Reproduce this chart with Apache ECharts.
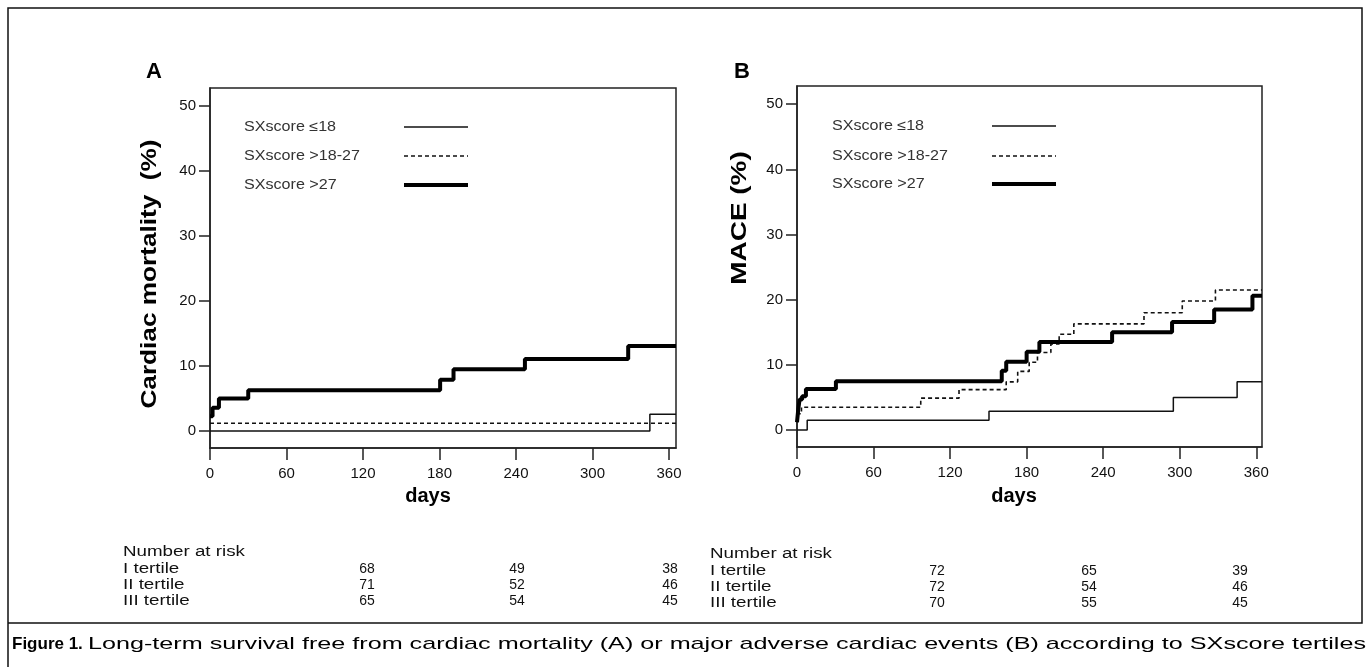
<!DOCTYPE html>
<html>
<head>
<meta charset="utf-8">
<script src="https://cdn.jsdelivr.net/npm/echarts@6/dist/echarts.min.js"></script>
<style>
html,body{margin:0;padding:0;background:#fff;}
#c{width:1370px;height:667px;}
</style>
</head>
<body>
<div id="c"></div>
<script>
// ---------- DATA ----------
const seriesNames = ['SXscore \u226418', 'SXscore >18-27', 'SXscore >27'];
const xTicks = [0, 60, 120, 180, 240, 300, 360];
const yTicks = [0, 10, 20, 30, 40, 50];

// Panel A: cardiac mortality (%)
const aLowDays  = [0, 345, 365.5];
const aLowVals  = [0, 2.6, 2.6];
const aMidDays  = [0, 365.5];
const aMidVals  = [1.2, 1.2];
const aHighDays = [0, 2, 7, 30, 180.5, 191, 247, 328, 365.5];
const aHighVals = [2.3, 3.6, 5.0, 6.3, 7.9, 9.5, 11.1, 13.1, 13.1];

// Panel B: MACE (%)
const bLowDays  = [0, 8, 150.5, 295, 345, 364.5];
const bLowVals  = [0, 1.5, 2.9, 5.0, 7.4, 7.4];
const bMidDays  = [0, 1, 3.5, 97, 127, 164, 173, 182, 188.5, 199, 205.5, 217, 272, 302, 328, 364.5];
const bMidVals  = [1.2, 2.5, 3.5, 4.9, 6.2, 7.4, 9.0, 10.4, 11.9, 13.2, 14.7, 16.3, 18.0, 19.8, 21.5, 21.5];
const bHighDays = [0, 1, 2, 4, 7, 30.5, 160.5, 164, 180, 190, 247, 294, 327, 357, 364.5];
const bHighVals = [1.2, 3.2, 4.7, 5.2, 6.3, 7.5, 9.1, 10.5, 12.0, 13.5, 15.0, 16.6, 18.5, 20.6, 20.6];

// Number at risk tables
const riskTitle = 'Number at risk';
const riskRows = ['I tertile', 'II tertile', 'III tertile'];
const riskA = [[68, 49, 38], [71, 52, 46], [65, 54, 45]];
const riskB = [[72, 65, 39], [72, 54, 46], [70, 55, 45]];

const captionBold = 'Figure 1.';
const captionText = 'Long-term survival free from cardiac mortality (A) or major adverse cardiac events (B) according to SXscore tertiles';

// ---------- CHART ----------
function zip(d, v) { return d.map((x, i) => [x, v[i]]); }

const chart = echarts.init(document.getElementById('c'), null, {renderer: 'canvas'});
const FONT = '"Liberation Sans", Arial, sans-serif';

const lineStyles = [
  {width: 1.5, color: '#111', type: 'solid'},
  {width: 1.6, color: '#111', type: [4, 3]},
  {width: 4, color: '#000', type: 'solid'}
];

function makeGrid(left, right, top, bottom) {
  return {left, right, top, bottom, show: true, borderColor: '#222', borderWidth: 1.5, backgroundColor: 'transparent', containLabel: false};
}
function makeX(idx, max) {
  return {
    type: 'value', gridIndex: idx, min: 0, max: max,
    axisLine: {show: true, onZero: false, lineStyle: {color: '#222', width: 1.5}},
    axisTick: {show: true, inside: false, length: 12, lineStyle: {color: '#222', width: 1.5}, customValues: xTicks},
    axisLabel: {customValues: xTicks, color: '#111', fontFamily: FONT, fontSize: 15, margin: 18},
    splitLine: {show: false}
  };
}
function makeY(idx) {
  return {
    type: 'value', gridIndex: idx, min: -2.6, max: 52.8,
    axisLine: {show: true, onZero: false, lineStyle: {color: '#222', width: 1.5}},
    axisTick: {show: true, inside: false, length: 11, lineStyle: {color: '#222', width: 1.5}, customValues: yTicks},
    axisLabel: {customValues: yTicks, color: '#111', fontFamily: FONT, fontSize: 15, margin: 14},
    splitLine: {show: false}
  };
}
function makeSeries(idx, name, data, ls) {
  return {
    type: 'line', name, xAxisIndex: idx, yAxisIndex: idx, data, step: 'end',
    symbol: 'none', lineStyle: ls, silent: true, animation: false, z: ls.width > 3 ? 3 : 2
  };
}

const graphics = [];
function text(x, y, t, opts, sx) {
  graphics.push({type: 'text', x, y, scaleX: sx || 1, style: Object.assign({text: t, fill: '#111', font: '14px ' + FONT, textVerticalAlign: 'middle'}, opts || {})});
}
function rotText(x, y, t, font, sx) {
  graphics.push({type: 'text', x, y, rotation: Math.PI / 2, scaleX: sx, style: {text: t, fill: '#000', font, textAlign: 'center', textVerticalAlign: 'middle'}});
}
function legend(textX, lineX1, lineX2, ys) {
  seriesNames.forEach((n, i) => {
    graphics.push({type: 'text', x: textX, y: ys[i], scaleX: 1.15, style: {text: n, fill: '#333', font: '14px ' + FONT, textVerticalAlign: 'middle'}});
    graphics.push({type: 'line', shape: {x1: lineX1, y1: ys[i], x2: lineX2, y2: ys[i]}, style: {stroke: lineStyles[i].color, lineWidth: lineStyles[i].width, lineDash: Array.isArray(lineStyles[i].type) ? lineStyles[i].type : null}});
  });
}
function riskTable(x0, ys, cols, data) {
  text(x0, ys[0], riskTitle, null, 1.34);
  riskRows.forEach((r, i) => {
    text(x0, ys[i + 1], r, null, 1.34);
    data[i].forEach((v, j) => text(cols[j], ys[i + 1], String(v), {textAlign: 'center'}));
  });
}

// Panel labels
text(154, 72, 'A', {font: 'bold 22px ' + FONT, fill: '#000', textAlign: 'center'});
text(742, 72, 'B', {font: 'bold 22px ' + FONT, fill: '#000', textAlign: 'center'});
// Axis titles
rotText(150, 274, 'Cardiac mortality  (%)', 'bold 22px ' + FONT, 1.19);
rotText(740, 218, 'MACE (%)', 'bold 22px ' + FONT, 1.27);
text(428, 496, 'days', {font: 'bold 20px ' + FONT, fill: '#000', textAlign: 'center'});
text(1014, 496, 'days', {font: 'bold 20px ' + FONT, fill: '#000', textAlign: 'center'});
// Legends
legend(244, 404, 468, [127, 156, 185]);
legend(832, 992, 1056, [126, 156, 184]);
// Risk tables
riskTable(123, [552, 569, 585, 601], [367, 517, 670], riskA);
riskTable(710, [554, 571, 587, 603], [937, 1089, 1240], riskB);
// Outer frame
graphics.push({type: 'polyline', shape: {points: [[8, 667], [8, 8], [1362, 8], [1362, 623], [8, 623]]}, style: {stroke: '#111', lineWidth: 1.5, fill: null}});
// Caption
text(12, 644, captionBold, {font: 'bold 17px ' + FONT, fill: '#000'});
text(88, 644, captionText, {font: '17px ' + FONT, fill: '#000'}, 1.48);

chart.setOption({
  animation: false,
  backgroundColor: '#fff',
  grid: [makeGrid(210, 694, 88, 219), makeGrid(797, 108, 86, 220)],
  xAxis: [makeX(0, 365.5), makeX(1, 364.5)],
  yAxis: [makeY(0), makeY(1)],
  series: [
    makeSeries(0, seriesNames[0], zip(aLowDays, aLowVals), lineStyles[0]),
    makeSeries(0, seriesNames[1], zip(aMidDays, aMidVals), lineStyles[1]),
    makeSeries(0, seriesNames[2], zip(aHighDays, aHighVals), lineStyles[2]),
    makeSeries(1, seriesNames[0], zip(bLowDays, bLowVals), lineStyles[0]),
    makeSeries(1, seriesNames[1], zip(bMidDays, bMidVals), lineStyles[1]),
    makeSeries(1, seriesNames[2], zip(bHighDays, bHighVals), lineStyles[2])
  ],
  graphic: graphics
});
</script>
</body>
</html>
